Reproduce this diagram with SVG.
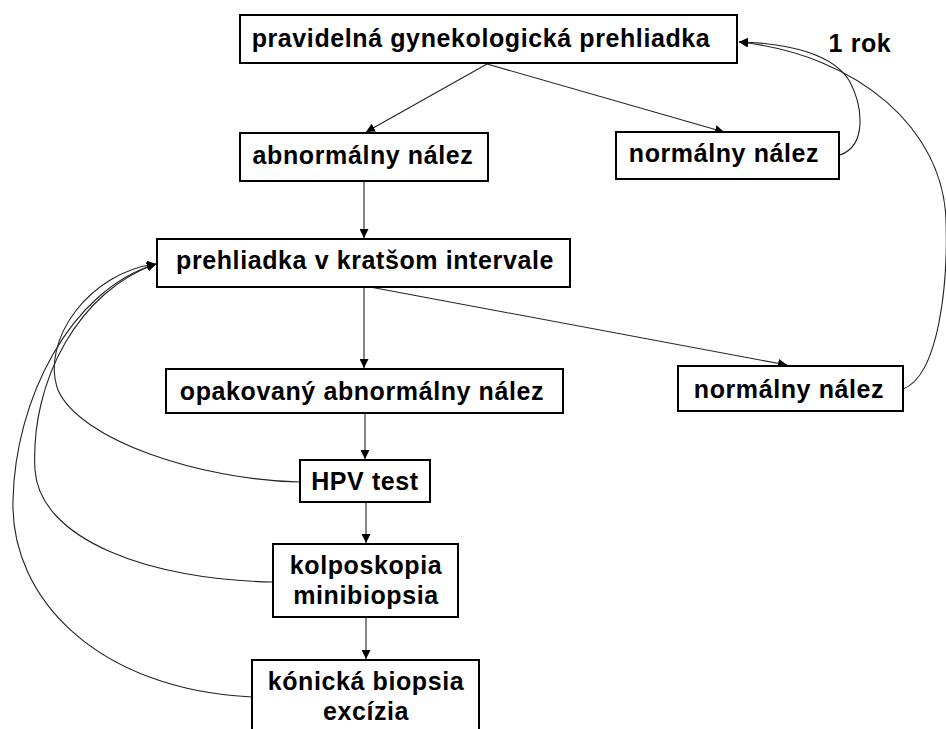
<svg xmlns="http://www.w3.org/2000/svg" width="946" height="729" viewBox="0 0 946 729">
<style>
.box{fill:#fff;stroke:#000;stroke-width:2}
.t{font-family:"Liberation Sans",Arial,sans-serif;font-weight:bold;font-size:25px;letter-spacing:0.6px;fill:#000;text-anchor:middle}
.c{fill:none;stroke:#222;stroke-width:1.1}
</style>
<defs>
<marker id="ah" viewBox="0 0 10 10" refX="10" refY="5" markerWidth="9" markerHeight="9" markerUnits="userSpaceOnUse" orient="auto">
<path d="M0,0 L10,5 L0,10 z" fill="#000"/>
</marker>
</defs>
<rect width="946" height="729" fill="#fff"/>
<g id="connectors">
<path class="c" d="M487,64 L366,132" marker-end="url(#ah)"/>
<path class="c" d="M487,64 L724,132" marker-end="url(#ah)"/>
<path class="c" d="M364,181 L364,238" marker-end="url(#ah)"/>
<path class="c" d="M364,287 L364,368" marker-end="url(#ah)"/>
<path class="c" d="M370,287 L787,365" marker-end="url(#ah)"/>
<path class="c" d="M365,413 L365,459" marker-end="url(#ah)"/>
<path class="c" d="M366,502 L366,543" marker-end="url(#ah)"/>
<path class="c" d="M366,617 L366,659" marker-end="url(#ah)"/>
<path class="c" d="M840,155 C868,145 862,105 850,82 C835,55 790,43 739,42" marker-end="url(#ah)"/>
<path class="c" d="M903,389 C940,375 948,280 946,220 C943,130 860,55 739,42" marker-end="url(#ah)"/>
<path class="c" d="M300,482 C200,480 80,440 58,390 C40,340 90,272 156,264" marker-end="url(#ah)"/>
<path class="c" d="M273,582 C150,580 40,540 35,470 C30,380 80,290 156,264" marker-end="url(#ah)"/>
<path class="c" d="M252,697 C100,690 10,600 13,500 C15,400 70,290 156,264" marker-end="url(#ah)"/>
</g>
<g id="n_prehliadka">
<rect class="box" x="240" y="15" width="497" height="48"/>
<text class="t" x="481" y="47">pravidelná gynekologická prehliadka</text>
</g>
<g id="label_1rok">
<text class="t" x="860" y="52">1 rok</text>
</g>
<g id="n_abnormalny">
<rect class="box" x="240" y="133" width="248" height="48"/>
<text class="t" x="363" y="164">abnormálny nález</text>
</g>
<g id="n_normalny1">
<rect class="box" x="616" y="132" width="223" height="47"/>
<text class="t" x="724" y="162">normálny nález</text>
</g>
<g id="n_kratsom">
<rect class="box" x="157" y="239" width="413" height="48"/>
<text class="t" x="365" y="269">prehliadka v kratšom intervale</text>
</g>
<g id="n_opakovany">
<rect class="box" x="166" y="369" width="397" height="44"/>
<text class="t" x="362" y="400">opakovaný abnormálny nález</text>
</g>
<g id="n_normalny2">
<rect class="box" x="678" y="366" width="225" height="45"/>
<text class="t" x="789" y="398">normálny nález</text>
</g>
<g id="n_hpv">
<rect class="box" x="300" y="460" width="130" height="42"/>
<text class="t" x="365" y="490">HPV test</text>
</g>
<g id="n_kolposkopia">
<rect class="box" x="273" y="544" width="185" height="73"/>
<text class="t" x="366" y="574">kolposkopia</text>
<text class="t" x="366" y="604">minibiopsia</text>
</g>
<g id="n_konicka">
<rect class="box" x="252" y="660" width="227" height="80"/>
<text class="t" x="366" y="690">kónická biopsia</text>
<text class="t" x="366" y="720">excízia</text>
</g>
</svg>
